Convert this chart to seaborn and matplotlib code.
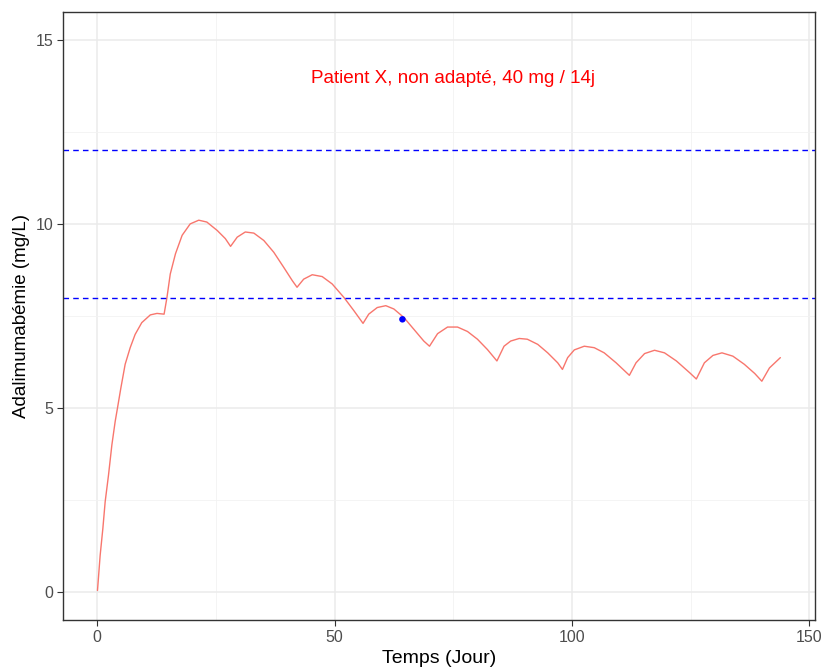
import pandas as pd
import seaborn as sns
import matplotlib.pyplot as plt
from matplotlib.ticker import MultipleLocator

# simulated concentration curve
time_days = [0.07, 0.63, 1.2, 1.69, 2.39, 3.1, 3.8, 4.28, 5.0, 5.9, 6.96, 8.0, 9.4, 11.2, 12.6, 14.1,
             14.7, 15.4, 16.5, 17.9, 19.6, 21.4, 23.1, 25.3, 27.0, 28.1,
             29.5, 31.2, 33.0, 35.1, 37.2, 39.3, 41.1, 42.1,
             43.5, 45.3, 47.4, 49.5, 52.0, 54.1, 56.0,
             57.2, 59.0, 60.8, 62.5, 64.6, 66.7, 68.8, 70.0,
             71.7, 73.8, 75.9, 78.0, 80.1, 82.2, 84.2,
             85.7, 87.1, 88.9, 90.6, 92.8, 94.9, 97.0, 98.0,
             99.1, 100.5, 102.6, 104.7, 106.8, 109.3, 112.1,
             113.5, 115.3, 117.4, 119.5, 122.0, 124.8, 126.2,
             127.9, 129.7, 131.6, 133.9, 136.3, 138.5, 140.0,
             141.6, 143.9]
conc = [0.05, 1.0, 1.73, 2.46, 3.18, 4.0, 4.64, 5.0, 5.55, 6.19, 6.64, 7.0, 7.32, 7.53, 7.57, 7.55,
        8.0, 8.64, 9.19, 9.69, 10.0, 10.1, 10.05, 9.82, 9.6, 9.39,
        9.64, 9.78, 9.75, 9.55, 9.23, 8.82, 8.46, 8.28,
        8.5, 8.62, 8.57, 8.37, 8.0, 7.64, 7.30,
        7.55, 7.73, 7.78, 7.69, 7.46, 7.14, 6.82, 6.68,
        7.02, 7.2, 7.2, 7.08, 6.87, 6.59, 6.28,
        6.68, 6.82, 6.89, 6.87, 6.73, 6.5, 6.23, 6.05,
        6.37, 6.58, 6.68, 6.64, 6.5, 6.23, 5.89,
        6.23, 6.48, 6.57, 6.5, 6.28, 5.96, 5.79,
        6.23, 6.43, 6.5, 6.41, 6.19, 5.94, 5.73,
        6.09, 6.37]

# observed sample
obs_time = [64.3]
obs_conc = [7.41]

# therapeutic window
target_low = 8
target_high = 12

label = "Patient X, non adapté, 40 mg / 14j"

df = pd.DataFrame({"Temps": time_days, "Conc": conc})
obs = pd.DataFrame({"Temps": obs_time, "Conc": obs_conc})

sns.set_theme(style="whitegrid")
plt.rcParams['font.family'] = ['Liberation Sans', 'DejaVu Sans']

fig, ax = plt.subplots(figsize=(8.22, 6.68), dpi=100)
fig.subplots_adjust(left=0.0766, right=0.9915, top=0.982, bottom=0.0719)

sns.lineplot(data=df, x="Temps", y="Conc", color="#F8766D", linewidth=1.0, ax=ax)
sns.scatterplot(data=obs, x="Temps", y="Conc", color="blue", s=22, edgecolor="none", zorder=5, ax=ax)

for y in (target_low, target_high):
    ax.axhline(y, color="blue", linestyle=(0, (4, 3)), linewidth=1.0)

ax.text(75, 14, label, color="red", fontsize=13.6, ha="center", va="center_baseline")

ax.set_xlim(-7.2, 151.2)
ax.set_ylim(-0.75, 15.75)
ax.xaxis.set_major_locator(MultipleLocator(50))
ax.xaxis.set_minor_locator(MultipleLocator(25))
ax.yaxis.set_major_locator(MultipleLocator(5))
ax.yaxis.set_minor_locator(MultipleLocator(2.5))

ax.grid(which="major", color="#EBEBEB", linewidth=1.1)
ax.grid(which="minor", color="#F2F2F2", linewidth=0.6)
ax.set_axisbelow(True)

for s in ax.spines.values():
    s.set_visible(True)
    s.set_color("#333333")
    s.set_linewidth(1.0)

ax.tick_params(axis="both", which="major", length=4, width=0.8, color="#333333",
               labelsize=11.5, labelcolor="#4D4D4D", pad=3, bottom=True, left=True)
ax.tick_params(which="minor", length=0)

ax.set_xlabel("Temps (Jour)", fontsize=14, color="black", labelpad=4)
ax.set_ylabel("Adalimumabémie (mg/L)", fontsize=13.5, color="black", labelpad=4)

fig.savefig("out.png", dpi=100)
